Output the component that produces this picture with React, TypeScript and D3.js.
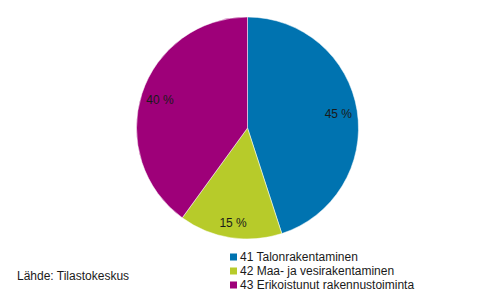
import React from "react";
import * as d3 from "d3";

const categories = ["41 Talonrakentaminen", "42 Maa- ja vesirakentaminen", "43 Erikoistunut rakennustoiminta"];
const values = [45, 15, 40];
const labels = ["45 %", "15 %", "40 %"];
const colors = ["#0073B0", "#B7CB2A", "#9E0079"];
const source = "Lähde: Tilastokeskus";

export default function App() {
  const W = 491, H = 302;
  const cx = 247.5, cy = 128, r = 111;
  const pie = d3.pie<number>().sort(null).value((d) => d)(values);
  const arc = d3.arc<d3.PieArcDatum<number>>().innerRadius(0).outerRadius(r);
  const labelArc = d3.arc<d3.PieArcDatum<number>>().innerRadius(92).outerRadius(92);
  const font = "'Liberation Sans', Arial, sans-serif";
  return (
    <svg width={W} height={H} style={{ position: "absolute", left: 0, top: 0, fontFamily: font }}>
      <rect width={W} height={H} fill="#fff" />
      <g transform={`translate(${cx},${cy})`}>
        {pie.map((p, i) => (
          <path key={i} d={arc(p) || ""} fill={colors[i]} stroke="#fff" strokeWidth={0.5} />
        ))}
        {pie.map((p, i) => {
          const [x, y] = labelArc.centroid(p);
          return (
            <text key={i} x={x} y={y + (i === 1 ? 4 : 0)} dy="0.35em" textAnchor="middle" fontSize={12} fill="#1a1a1a">
              {labels[i]}
            </text>
          );
        })}
      </g>
      <g>
        {categories.map((c, i) => (
          <g key={i} transform={`translate(230,${257 + i * 14})`}>
            <rect x={0} y={-3.5} width={7} height={7} fill={colors[i]} />
            <text x={10} y={0} dy="0.35em" fontSize={12} fill="#1a1a1a">{c}</text>
          </g>
        ))}
      </g>
      <text x={17} y={276} dy="0.35em" fontSize={12} fill="#1a1a1a">{source}</text>
    </svg>
  );
}
